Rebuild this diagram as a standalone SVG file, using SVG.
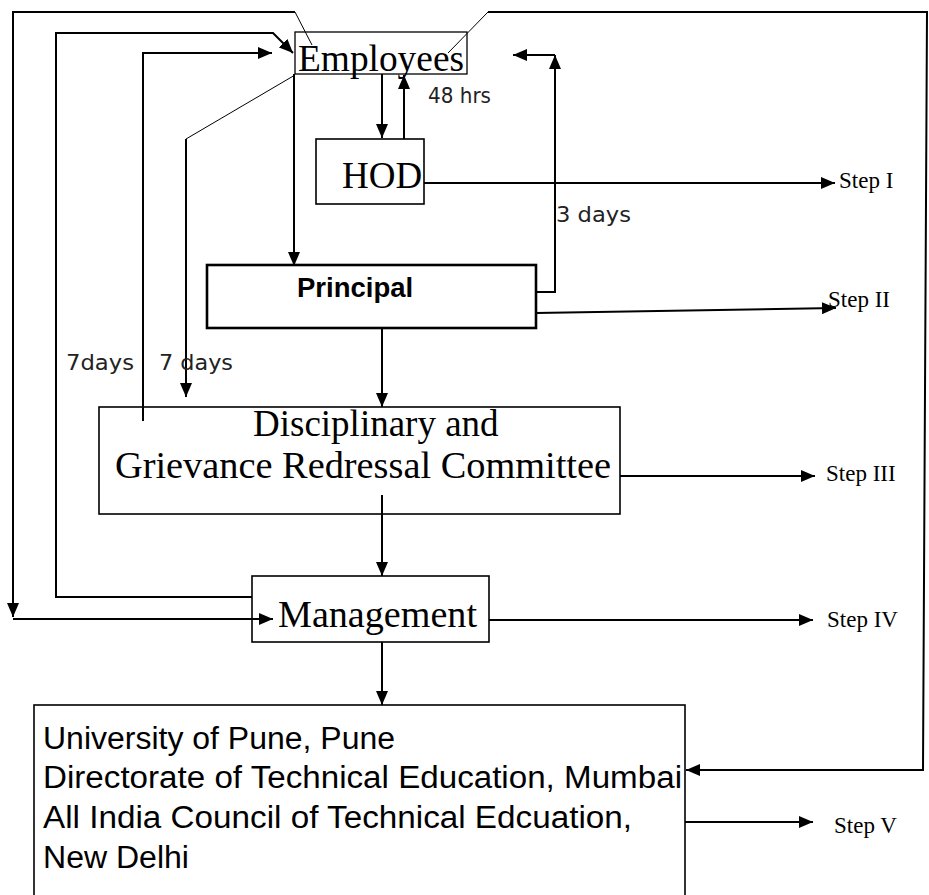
<svg xmlns="http://www.w3.org/2000/svg" width="929" height="895" viewBox="0 0 929 895">
<style>
.box{fill:#fff;stroke:#000;stroke-width:1.6}
.ser{font-family:"Liberation Serif","Times New Roman",serif;fill:#000}
.big{font-size:37px}
.step{font-size:23px}
.san{font-family:"Liberation Sans",Arial,sans-serif;fill:#000}
.uni{font-size:31px}
.lbl{font-family:"DejaVu Sans","Liberation Sans",sans-serif;font-size:20.5px;fill:#222}
.c{fill:none;stroke:#000;stroke-width:2}
.t{fill:none;stroke:#000;stroke-width:1}
</style>
<defs>
<marker id="a" markerUnits="userSpaceOnUse" markerWidth="15" markerHeight="12" refX="14" refY="6" orient="auto">
<path d="M0,0 L14,6 L0,12 z" fill="#000"/>
</marker>
</defs>
<rect width="929" height="895" fill="#fff"/>

<g id="employees">
<rect class="box" x="295" y="32" width="172" height="42" style="stroke-width:1.3"/>
<text class="ser big" x="298" y="71" textLength="166" lengthAdjust="spacingAndGlyphs">Employees</text>
</g>
<g id="hod">
<rect class="box" x="316" y="139" width="108" height="65"/>
<text class="ser big" x="342" y="188">HOD</text>
</g>
<g id="principal">
<rect class="box" x="207" y="265" width="329" height="63" style="stroke-width:2.6"/>
<text class="san" x="297" y="297" font-size="27.5" font-weight="bold">Principal</text>
</g>
<g id="dgrc">
<rect class="box" x="99" y="407" width="521" height="107"/>
<text class="ser big" x="253" y="436">Disciplinary and</text>
<text class="ser big" x="115" y="478" textLength="496" lengthAdjust="spacingAndGlyphs">Grievance Redressal Committee</text>
</g>
<g id="management">
<rect class="box" x="252" y="576" width="237" height="66"/>
<text class="ser big" x="278" y="627" textLength="199" lengthAdjust="spacingAndGlyphs">Management</text>
</g>
<g id="university">
<rect class="box" x="34" y="705" width="651" height="200"/>
<text class="san uni" x="43" y="749" textLength="352" lengthAdjust="spacingAndGlyphs">University of Pune, Pune</text>
<text class="san uni" x="43" y="788" textLength="639" lengthAdjust="spacingAndGlyphs">Directorate of Technical Education, Mumbai</text>
<text class="san uni" x="43" y="828" textLength="589" lengthAdjust="spacingAndGlyphs">All India Council of Technical Edcuation,</text>
<text class="san uni" x="43" y="868" textLength="146" lengthAdjust="spacingAndGlyphs">New Delhi</text>
</g>
<g id="steps">
<text class="ser step" x="839" y="188">Step I</text>
<text class="ser step" x="828" y="307">Step II</text>
<text class="ser step" x="826" y="481">Step III</text>
<text class="ser step" x="827" y="627">Step IV</text>
<text class="ser step" x="834" y="833">Step V</text>
</g>

<g id="connectors">
<path class="c" d="M382,74 V138" marker-end="url(#a)"/>
<path class="c" d="M404,139 V75" marker-end="url(#a)"/>
<path class="c" d="M424,183 H835" marker-end="url(#a)"/>
<path class="c" d="M294,74 V266" marker-end="url(#a)"/>
<path class="c" d="M382,328 V407" marker-end="url(#a)"/>
<path class="c" d="M382,495 V576" marker-end="url(#a)"/>
<path class="c" d="M382,642 V705" marker-end="url(#a)"/>
<path class="c" d="M620,476 H815" marker-end="url(#a)"/>
<path class="c" d="M489,620 H813" marker-end="url(#a)"/>
<path class="c" d="M685,822 H813" marker-end="url(#a)"/>
<path class="c" d="M536,313 L836,308" marker-end="url(#a)"/>
<path class="c" d="M536,292 H555 V55" marker-end="url(#a)"/>
<path class="c" d="M555,55 H513" marker-end="url(#a)"/>
<path class="t" d="M312,45 L295,12"/>
<path class="c" d="M295,12 H13 V617" marker-end="url(#a)"/>
<path class="c" d="M13,619 H273" marker-end="url(#a)"/>
<path class="c" d="M252,597 H56 V33 H273 L293,53" marker-end="url(#a)"/>
<path class="c" d="M143,421 V53 H272" marker-end="url(#a)"/>
<path class="t" d="M295,75 L186,139"/>
<path class="c" d="M186,139 V397" marker-end="url(#a)"/>
<path class="t" d="M448,53 L488,12"/>
<path class="c" d="M488,12 H927 L923,770 H686" marker-end="url(#a)"/>
<text class="lbl" x="428" y="103" textLength="63" lengthAdjust="spacingAndGlyphs">48 hrs</text>
<text class="lbl" x="556" y="222" textLength="75" lengthAdjust="spacingAndGlyphs">3 days</text>
<text class="lbl" x="66" y="370" textLength="68" lengthAdjust="spacingAndGlyphs">7days</text>
<text class="lbl" x="159" y="370" textLength="74" lengthAdjust="spacingAndGlyphs">7 days</text>
</g>
</svg>
